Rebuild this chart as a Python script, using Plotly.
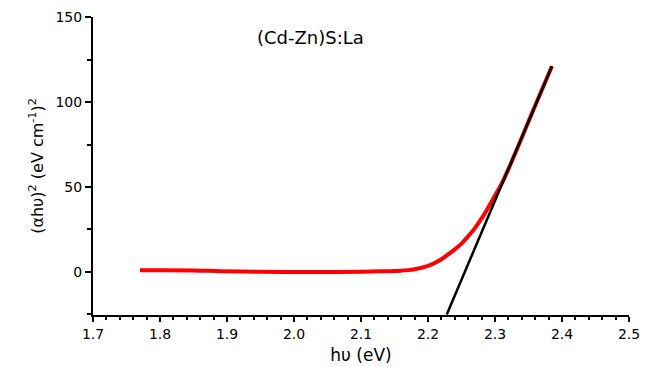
import plotly.graph_objects as go

# Red measured curve: (alpha h nu)^2 vs h nu
energy_ev = [1.77, 1.80, 1.85, 1.89, 1.95, 2.00, 2.05, 2.10, 2.13, 2.15, 2.16, 2.17,
             2.18, 2.19, 2.20, 2.21, 2.22, 2.23, 2.24, 2.25, 2.26, 2.27, 2.28, 2.29,
             2.30, 2.31, 2.32, 2.34, 2.36, 2.385]
alpha_hv_sq = [1.0, 1.0, 0.9, 0.5, 0.1, 0.0, 0.0, 0.2, 0.4, 0.6, 0.8, 1.1,
               1.6, 2.5, 3.6, 5.3, 7.5, 10.3, 13.3, 16.7, 21.0, 25.8, 31.5, 38.0,
               45.0, 52.0, 60.5, 79.0, 98.0, 121.0]

# Black linear extrapolation (Tauc fit)
fit_x = [2.228, 2.385]
fit_y = [-25.0, 121.0]

x_ticks = [1.7, 1.8, 1.9, 2.0, 2.1, 2.2, 2.3, 2.4, 2.5]
y_ticks = [0, 50, 100, 150]

FONT = "DejaVu Sans, Verdana, sans-serif"

fig = go.Figure()
fig.add_trace(go.Scatter(x=energy_ev, y=alpha_hv_sq, mode="lines",
                         line=dict(color="#ff0000", width=4, shape="spline", smoothing=1.0),
                         showlegend=False))
fig.add_trace(go.Scatter(x=fit_x, y=fit_y, mode="lines",
                         line=dict(color="#000000", width=2.5),
                         showlegend=False))

fig.add_annotation(text="(Cd-Zn)S:La", xref="paper", yref="paper",
                   x=0.405, y=0.93, xanchor="center", yanchor="middle", showarrow=False,
                   font=dict(family=FONT, size=18, color="#000"))

fig.update_layout(
    width=656, height=367,
    margin=dict(l=93, r=27, t=17, b=52),
    paper_bgcolor="white", plot_bgcolor="white",
    font=dict(family=FONT, size=14, color="#000"),
    xaxis=dict(range=[1.7, 2.5], tickvals=x_ticks, automargin=False,
               ticktext=[f"{v:.1f}" for v in x_ticks],
               showgrid=False, zeroline=False, showline=True, linecolor="#000", linewidth=2,
               ticks="outside", ticklen=5, tickwidth=1.5, tickcolor="#000",
               minor=dict(dtick=0.02, ticks="outside", ticklen=3, tickwidth=1.5, tickcolor="#000"),
               title=dict(text="h\u03c5 (eV)", font=dict(size=17), standoff=8),
               tickfont=dict(size=14)),
    yaxis=dict(range=[-25.3, 150], tickvals=y_ticks, automargin=False,
               showgrid=False, zeroline=False, showline=True, linecolor="#000", linewidth=2,
               ticks="outside", ticklen=6, tickwidth=1.5, tickcolor="#000",
               minor=dict(dtick=25, ticks="outside", ticklen=4, tickwidth=1.5, tickcolor="#000"),
               title=dict(text="(\u03b1h\u03c5)<sup>2</sup> (eV cm<sup>-1</sup>)<sup>2</sup>",
                          font=dict(size=16), standoff=8),
               tickfont=dict(size=14)),
)

fig.write_html("out.html")
